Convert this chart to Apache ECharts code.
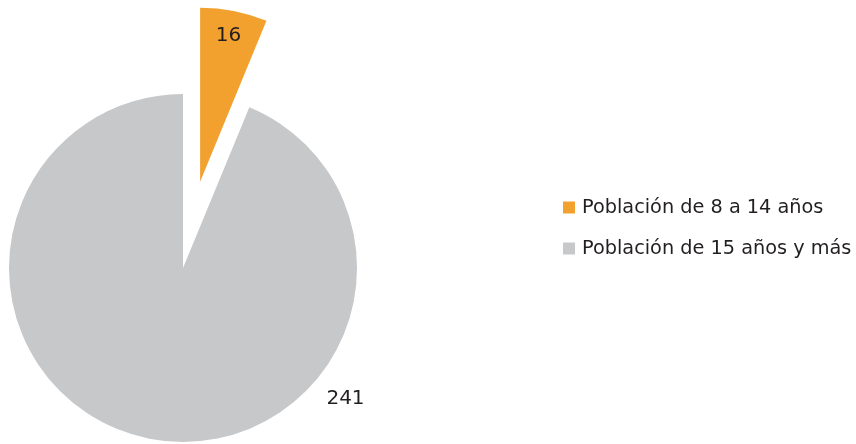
<!DOCTYPE html>
<html><head><meta charset="utf-8">
<script src="https://cdn.jsdelivr.net/npm/echarts@6/dist/echarts.min.js"></script>
<style>html,body{margin:0;padding:0;background:#fff}#c{width:856px;height:444px}</style>
</head><body><div id="c"></div>
<script>
const categories = ['Población de 8 a 14 años', 'Población de 15 años y más'];
const values = [16, 241];
const colors = ['#F2A02E', '#C7C8CA'];

const chart = echarts.init(document.getElementById('c'), null, {renderer: 'canvas'});
const FONT = 'DejaVu Sans';
const labelShift = [[11, -58], [180, 43]];
chart.setOption({
  animation: false,
  backgroundColor: '#ffffff',
  legend: {
    orient: 'vertical',
    left: 563,
    top: 196.5,
    padding: 0,
    itemWidth: 12,
    itemHeight: 12,
    itemGap: 19,
    selectedMode: false,
    icon: 'rect',
    textStyle: {fontFamily: FONT, fontSize: 19.3, lineHeight: 22, color: '#231F20', padding: [0, 0, 0, 2]},
    data: categories
  },
  series: [{
    type: 'pie',
    center: [183, 268],
    radius: 174,
    startAngle: 90,
    clockwise: true,
    selectedMode: 'single',
    selectedOffset: 88,
    silent: true,
    emphasis: {disabled: true},
    labelLine: {show: false},
    label: {
      show: true,
      position: 'inside',
      formatter: '{c}',
      fontFamily: FONT,
      fontSize: 20,
      color: '#231F20'
    },
    labelLayout: function (p) {
      const s = labelShift[p.dataIndex];
      return {dx: s[0], dy: s[1]};
    },
    data: categories.map((c, i) => ({
      name: c,
      value: values[i],
      selected: i === 0,
      itemStyle: {color: colors[i]}
    }))
  }]
});
</script></body></html>
